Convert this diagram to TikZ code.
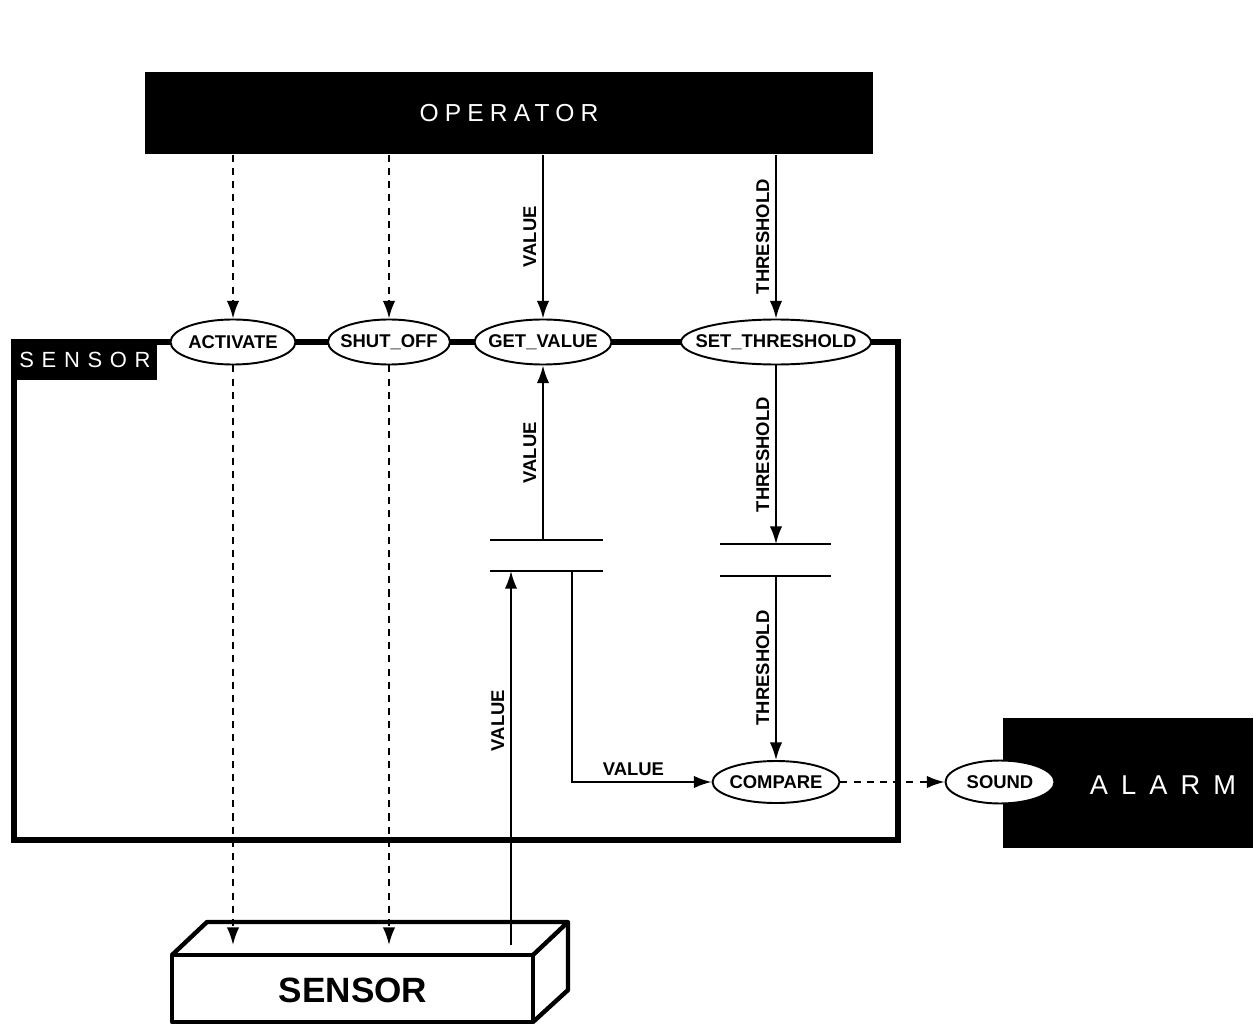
\documentclass[tikz,border=0pt]{standalone}
\usepackage{fontspec}
\usetikzlibrary{shapes.geometric,arrows.meta}
\tikzstyle{every picture}=[->,>={Latex[length=10pt,width=7pt]}]
\newfontfamily\lblfont{Liberation Sans}
\newfontfamily\opfont[LetterSpace=25]{Liberation Sans}
\newfontfamily\tagfont[LetterSpace=35]{Liberation Sans}
\newfontfamily\alarmfont[LetterSpace=48]{Liberation Sans}
\newcommand{\ovtext}[1]{\makebox[0pt]{#1}}
\tikzset{
  oval/.style={ellipse,draw,fill=white,line width=1.1pt,inner sep=0pt,
    minimum height=0.9cm,minimum width=#1,
    font={\lblfont\bfseries\fontsize{10.5}{12}\selectfont}},
  flow/.style={line width=1.1pt},
  flowd/.style={line width=1.1pt,dash pattern=on 4pt off 3.5pt},
  vlabel/.style={rotate=90,anchor=south,font={\lblfont\bfseries\fontsize{10.5}{12}\selectfont}},
  hlabel/.style={above,font={\lblfont\bfseries\fontsize{10.5}{12}\selectfont}},
  blackbox/.style={fill=black,text=white,inner sep=0pt},
  store/.style={line width=1.6pt},
  devline/.style={line width=2.5pt,line join=round},
}
\begin{document}
\begin{tikzpicture}[x=0.02cm,y=-0.02cm,>={Latex[length=10pt,width=7pt]}]
    \useasboundingbox (0,0) rectangle (1254,1030);

    % Operator on top
    \node[blackbox,minimum width=14.56cm,minimum height=1.66cm,
      font={\opfont\fontsize{14}{16}\selectfont}] (operator) at (509,113) {OPERATOR};

    % Sensor package boundary
    \draw[-,line width=3pt] (14,342) rectangle (898,840);
    \node[blackbox,minimum width=2.9cm,minimum height=0.8cm,
      font={\tagfont\fontsize{12.5}{14}\selectfont}] (sensortag) at (85,360) {SENSOR};

    % Alarm on the right
    \node[blackbox,minimum width=5.02cm,minimum height=2.6cm] (alarm) at (1128,783) {};
    \node[text=white,font={\alarmfont\fontsize{15.5}{18}\selectfont}] (alarmlabel) at (1163,785) {ALARM};

    % Entries on the boundary
    \node[oval=2.5cm] (activate) at (233,342) {\ovtext{ACTIVATE}};
    \node[oval=2.44cm] (shutoff) at (389,342) {\ovtext{SHUT\_OFF}};
    \node[oval=2.74cm] (getvalue) at (543,342) {\ovtext{GET\_VALUE}};
    \node[oval=3.8cm] (setthreshold) at (776,342) {\ovtext{SET\_THRESHOLD}};

    % Inner operation and alarm entry
    \node[oval=2.54cm,minimum height=0.84cm] (compare) at (776,782) {\ovtext{COMPARE}};
    \node[oval=2.18cm,minimum height=0.86cm] (sound) at (1000,782) {\ovtext{SOUND}};

    % Data stores
    \draw[-,store] (490,540) -- (603,540);
    \draw[-,store] (490,571) -- (603,571);
    \draw[-,store] (720,544) -- (831,544);
    \draw[-,store] (720,576) -- (831,576);
    \coordinate (vstop) at (543,540);
    \coordinate (vsin) at (511,571);
    \coordinate (vsout) at (572,571);
    \coordinate (tsin) at (776,544);
    \coordinate (tsout) at (776,576);

    % Physical sensor
    \draw[-,devline] (172,955) rectangle (533,1022);
    \draw[-,devline] (172,955) -- (207,922) -- (568,922) -- (533,955);
    \draw[-,devline] (568,922) -- (568,990) -- (533,1022);
    \node[font={\lblfont\bfseries\fontsize{20}{24}\selectfont}] (device) at (353,990) {SENSOR};
    \coordinate (devtop) at (0,945);
    \coordinate (devout) at (511,945);

    % Operator calls
    \draw[->,flowd] (activate |- operator.south) -- (activate.north);
    \draw[->,flowd] (shutoff |- operator.south) -- (shutoff.north);
    \draw[->,flow] (getvalue |- operator.south) -- (getvalue.north) node[vlabel,midway] {VALUE};
    \draw[->,flow] (setthreshold |- operator.south) -- (setthreshold.north) node[vlabel,midway] {THRESHOLD};

    % Control to the device
    \draw[->,flowd] (activate.south) -- (activate.south |- devtop);
    \draw[->,flowd] (shutoff.south) -- (shutoff.south |- devtop);

    % Data flows inside
    \draw[->,flow] (devout) -- (vsin) node[vlabel,pos=0.6] {VALUE};
    \draw[->,flow] (vstop) -- (getvalue.south) node[vlabel,midway] {VALUE};
    \draw[->,flow] (vsout) |- (compare.west) node[hlabel,pos=0.72] {VALUE};
    \draw[->,flow] (setthreshold.south) -- (tsin) node[vlabel,midway] {THRESHOLD};
    \draw[->,flow] (tsout) -- (compare.north) node[vlabel,midway] {THRESHOLD};

    % Raise the alarm
    \draw[->,flowd] (compare.east) -- (sound.west);

\end{tikzpicture}
\end{document}
